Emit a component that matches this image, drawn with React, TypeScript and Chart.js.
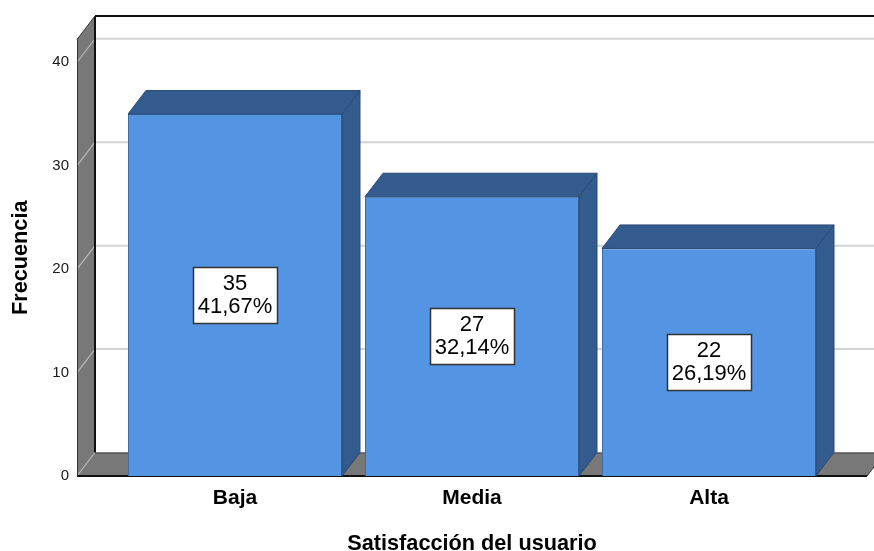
import React, { useEffect, useRef } from 'react';
import { Chart, registerables } from 'chart.js';

Chart.register(...registerables);

const categories = ['Baja', 'Media', 'Alta'];
const frequencies = [35, 27, 22];
const yTicks = [0, 10, 20, 30, 40];

const FONT = '"Liberation Sans", Arial, Helvetica, sans-serif';
const DX = 18;
const DY = 23.5;
const FRONT = '#5395e3';
const DARK = '#335b8d';
const WALL = '#787878';

function poly(ctx: CanvasRenderingContext2D, pts: number[][]) {
  ctx.beginPath();
  ctx.moveTo(pts[0][0], pts[0][1]);
  for (let i = 1; i < pts.length; i++) ctx.lineTo(pts[i][0], pts[i][1]);
  ctx.closePath();
}
function line(ctx: CanvasRenderingContext2D, x1: number, y1: number, x2: number, y2: number) {
  ctx.beginPath();
  ctx.moveTo(x1, y1);
  ctx.lineTo(x2, y2);
  ctx.stroke();
}

const threeD = {
  id: 'threeD',
  beforeDatasetsDraw(chart: any) {
    const { ctx, chartArea: a, scales } = chart;
    const ys = scales.y;
    const L = a.left, R = a.right, T = a.top, B = a.bottom;
    const W = chart.width;
    ctx.save();
    // back wall
    ctx.fillStyle = '#ffffff';
    ctx.fillRect(L + DX, T - DY, W - (L + DX), B - T);
    // back wall grid lines
    ctx.strokeStyle = '#d3d3d3';
    ctx.lineWidth = 2;
    yTicks.forEach((v) => {
      if (v === 0) return;
      const py = ys.getPixelForValue(v) - DY;
      line(ctx, L + DX, py, R + DX + 20, py);
    });
    // left wall
    ctx.fillStyle = WALL;
    poly(ctx, [[L, B], [L, T], [L + DX, T - DY], [L + DX, B - DY]]);
    ctx.fill();
    // floor
    poly(ctx, [[L, B], [R, B], [R + DX, B - DY], [L + DX, B - DY]]);
    ctx.fill();
    // left wall diagonal grid lines
    ctx.strokeStyle = '#b8b8b8';
    ctx.lineWidth = 1.2;
    yTicks.forEach((v) => {
      const py = ys.getPixelForValue(v);
      line(ctx, L, py, L + DX, py - DY);
    });
    // edges
    ctx.strokeStyle = '#111';
    ctx.lineWidth = 2;
    line(ctx, L + DX, T - DY, R + DX + 20, T - DY);
    line(ctx, L + DX, T - DY, L + DX, B - DY);
    line(ctx, L, B, R, B);
    ctx.lineWidth = 1;
    ctx.strokeStyle = '#333';
    line(ctx, L + 0.5, T, L + 0.5, B);
    line(ctx, L, T, L + DX, T - DY);
    line(ctx, R, B, R + DX, B - DY);
    ctx.strokeStyle = '#444';
    line(ctx, L + DX, B - DY + 0.5, R + DX, B - DY + 0.5);
    ctx.restore();
  },
  afterDatasetsDraw(chart: any) {
    const { ctx } = chart;
    const meta = chart.getDatasetMeta(0);
    const total = frequencies.reduce((s, v) => s + v, 0);
    ctx.save();
    meta.data.forEach((el: any, i: number) => {
      const { x, y, base, width } = el.getProps(['x', 'y', 'base', 'width'], true);
      const left = x - width / 2;
      const right = x + width / 2;
      ctx.fillStyle = DARK;
      ctx.strokeStyle = '#2a4a74';
      ctx.lineWidth = 1;
      poly(ctx, [[left, y], [right, y], [right + DX, y - DY], [left + DX, y - DY]]);
      ctx.fill();
      ctx.stroke();
      poly(ctx, [[right, y], [right + DX, y - DY], [right + DX, base - DY], [right, base]]);
      ctx.fill();
      ctx.stroke();

      // label box
      const v = frequencies[i];
      const pct = ((v / total) * 100).toFixed(2).replace('.', ',') + '%';
      const lines = [String(v), pct];
      ctx.font = `22px ${FONT}`;
      const tw = Math.max(...lines.map((t) => ctx.measureText(t).width));
      const bw = Math.round(tw + 9);
      const bh = 56;
      const cy = (y + base) / 2;
      const bx = Math.round(x - bw / 2) + 0.5;
      const by = Math.round(cy - bh / 2) + 0.5;
      ctx.fillStyle = '#ffffff';
      ctx.fillRect(bx, by, bw, bh);
      ctx.strokeStyle = '#333';
      ctx.lineWidth = 1.5;
      ctx.strokeRect(bx, by, bw, bh);
      ctx.fillStyle = '#000';
      ctx.textAlign = 'center';
      ctx.textBaseline = 'middle';
      ctx.fillText(lines[0], x, cy - 11);
      ctx.fillText(lines[1], x, cy + 12);
    });
    ctx.restore();
  },
};

export default function App() {
  const ref = useRef<HTMLCanvasElement | null>(null);
  useEffect(() => {
    document.body.style.margin = '0';
    if (!ref.current) return;
    Chart.defaults.font.family = FONT;
    const chart = new Chart(ref.current, {
      type: 'bar',
      data: {
        datasets: [
          {
            data: frequencies.map((v, i) => ({ x: i, y: v })),
            backgroundColor: FRONT,
            borderColor: '#3f6ca6',
            borderWidth: 1,
            categoryPercentage: 1,
            barPercentage: 0.903,
          } as any,
        ],
      },
      options: {
        responsive: false,
        animation: false,
        layout: { padding: { top: 39.5, right: 7, left: 0, bottom: 0 } },
        plugins: { legend: { display: false }, tooltip: { enabled: false } },
        scales: {
          x: {
            type: 'linear',
            offset: false,
            min: -2 / 3,
            max: 8 / 3,
            grid: { display: false, drawTicks: false, offset: false },
            border: { display: false },
            afterBuildTicks: (s: any) => {
              s.ticks = categories.map((_, i) => ({ value: i }));
            },
            afterFit: (s: any) => {
              s.height = 75;
            },
            ticks: {
              callback: (v: any) => categories[v] ?? '',
              padding: 10,
              autoSkip: false,
              maxRotation: 0,
              color: '#000',
              font: { size: 21, weight: 'bold', family: FONT },
            },
            title: {
              display: true,
              text: 'Satisfacción del usuario',
              color: '#000',
              font: { size: 21.7, weight: 'bold', family: FONT },
              padding: { top: 0, bottom: -6 },
            },
          },
          y: {
            min: 0,
            max: 42.2,
            grid: { display: false, drawTicks: false },
            border: { display: false },
            afterBuildTicks: (s: any) => {
              s.ticks = yTicks.map((v) => ({ value: v }));
            },
            afterFit: (s: any) => {
              s.width = 77;
            },
            ticks: {
              padding: 8,
              color: '#1a1a1a',
              font: { size: 15, family: FONT },
            },
            title: {
              display: true,
              text: 'Frecuencia',
              color: '#000',
              font: { size: 21.7, weight: 'bold', family: FONT },
              padding: { top: 8, bottom: 0 },
            },
          },
        },
      } as any,
      plugins: [threeD],
    });
    return () => chart.destroy();
  }, []);
  return (
    <div style={{ width: 874, height: 551 }}>
      <canvas ref={ref} width={874} height={551} style={{ display: 'block' }} />
    </div>
  );
}
